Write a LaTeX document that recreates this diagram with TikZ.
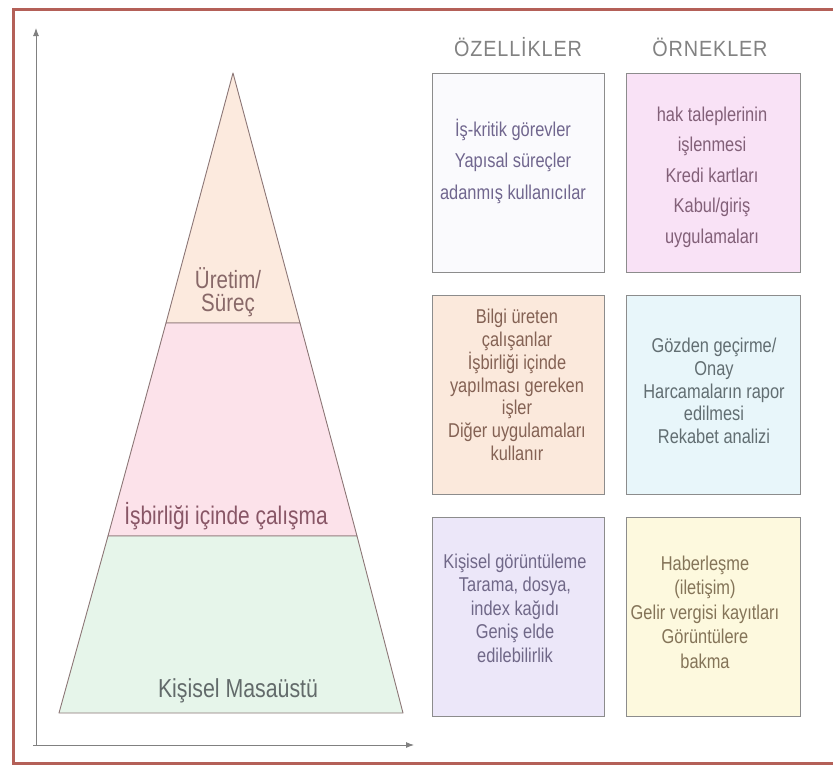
\documentclass[tikz,border=0pt]{standalone}
\usepackage{fontspec}
\setmainfont{Liberation Sans}
\newfontfamily\cond{Liberation Sans}[FakeStretch=0.82]
\newfontfamily\hdfont{Liberation Sans}[FakeStretch=0.9]
\usetikzlibrary{arrows.meta}
\definecolor{frameC}{RGB}{180,96,88}
\definecolor{axisC}{RGB}{128,128,128}
\definecolor{pyrLine}{RGB}{140,118,118}
\definecolor{fillTop}{RGB}{252,234,222}
\definecolor{fillMid}{RGB}{252,226,234}
\definecolor{fillBot}{RGB}{230,245,234}
\definecolor{boxLine}{RGB}{140,140,140}
\definecolor{bA}{RGB}{250,250,253}
\definecolor{bB}{RGB}{249,226,246}
\definecolor{bC}{RGB}{251,233,220}
\definecolor{bD}{RGB}{232,246,250}
\definecolor{bE}{RGB}{236,231,249}
\definecolor{bF}{RGB}{253,249,222}
\definecolor{tA}{RGB}{112,102,142}
\definecolor{tB}{RGB}{130,96,120}
\definecolor{tC}{RGB}{132,98,84}
\definecolor{tD}{RGB}{98,110,114}
\definecolor{tE}{RGB}{112,104,136}
\definecolor{tF}{RGB}{132,116,88}
\definecolor{hdC}{RGB}{130,130,130}
\definecolor{pT}{RGB}{136,104,104}
\definecolor{pM}{RGB}{136,86,102}
\definecolor{pB}{RGB}{98,106,106}
\tikzset{
  infobox/.style={draw=boxLine, line width=1pt, minimum width=#1, minimum height=199pt, inner sep=0pt},
  boxtext/.style={align=center, inner sep=0pt},
  header/.style={text=hdC, inner sep=0pt, font=\hdfont\fontsize{22}{26}\selectfont\addfontfeature{LetterSpace=4}},
  pyrlabel/.style={align=center, inner sep=0pt},
  axis/.style={draw=axisC, line width=0.9pt, -{Latex[length=8pt,width=6pt]}},
  layer/.style={draw=pyrLine, line width=0.9pt, line join=round}
}
\begin{document}
\begin{tikzpicture}[x=1pt,y=-1pt]
\useasboundingbox (0,0) rectangle (833,771);
\fill[white] (0,0) rectangle (833,771);
% frame
\draw[frameC, line width=3pt] (833,9) -- (13,9) -- (13,763) -- (833,763);
% axes
\coordinate (origin) at (36,745);
\coordinate (ytip) at (36,28);
\coordinate (xstart) at (33,745);
\coordinate (xtip) at (414,745);
\draw[axis] (origin) -- (ytip);
\draw[axis] (xstart) -- (xtip);
% pyramid
\coordinate (apex) at (233,73);
\coordinate (l1L) at (166,323); \coordinate (l1R) at (300,323);
\coordinate (l2L) at (108,536); \coordinate (l2R) at (357,536);
\coordinate (bL) at (59,713); \coordinate (bR) at (403,713);
\draw[layer, fill=fillTop] (apex) -- (l1R) -- (l1L) -- cycle;
\draw[layer, fill=fillMid] (l1L) -- (l1R) -- (l2R) -- (l2L) -- cycle;
\draw[layer, fill=fillBot] (l2L) -- (l2R) -- (bR) -- (bL) -- cycle;
\node[pyrlabel, text=pT, font=\cond\fontsize{25}{23}\selectfont] (lblTop) at (228,292) {Üretim/\\Süreç};
\node[pyrlabel, text=pM, font=\cond\fontsize{25.5}{26}\selectfont] (lblMid) at (226,516) {İşbirliği içinde çalışma};
\node[pyrlabel, text=pB, font=\cond\fontsize{26}{26}\selectfont] (lblBot) at (238,691) {Kişisel Masaüstü};
% headers
\node[header] (hOz) at (518,47) {ÖZELLİKLER};
\node[header] (hOr) at (710,47) {ÖRNEKLER};
% boxes
\node[infobox=172pt, fill=bA] (boxA) at (518,172.5) {};
\node[infobox=174pt, fill=bB] (boxB) at (713,172.5) {};
\node[infobox=172pt, fill=bC] (boxC) at (518,395) {};
\node[infobox=174pt, fill=bD] (boxD) at (713,395) {};
\node[infobox=172pt, fill=bE] (boxE) at (518,617) {};
\node[infobox=174pt, fill=bF] (boxF) at (713,617) {};
% box texts
\node[boxtext, text=tA, font=\cond\fontsize{20}{31.5}\selectfont] (txtA) at (513,161) {İş-kritik görevler\\Yapısal süreçler\\adanmış kullanıcılar};
\node[boxtext, text=tB, font=\cond\fontsize{20}{30.5}\selectfont] (txtB) at (712,177) {hak taleplerinin\\işlenmesi\\Kredi kartları\\Kabul/giriş\\uygulamaları};
\node[boxtext, text=tC, font=\cond\fontsize{20}{22.8}\selectfont] (txtC) at (517,385) {Bilgi üreten\\çalışanlar\\İşbirliği içinde\\yapılması gereken\\işler\\Diğer uygulamaları\\kullanır};
\node[boxtext, text=tD, font=\cond\fontsize{20}{22.8}\selectfont] (txtD) at (714,391) {Gözden geçirme/\\Onay\\Harcamaların rapor\\edilmesi\\Rekabet analizi};
\node[boxtext, text=tE, font=\cond\fontsize{20}{23.5}\selectfont] (txtE) at (515,608) {Kişisel görüntüleme\\Tarama, dosya,\\index kağıdı\\Geniş elde\\edilebilirlik};
\node[boxtext, text=tF, font=\cond\fontsize{20}{24.5}\selectfont] (txtF) at (705,612) {Haberleşme\\(iletişim)\\Gelir vergisi kayıtları\\Görüntülere\\bakma};
\end{tikzpicture}
\end{document}
